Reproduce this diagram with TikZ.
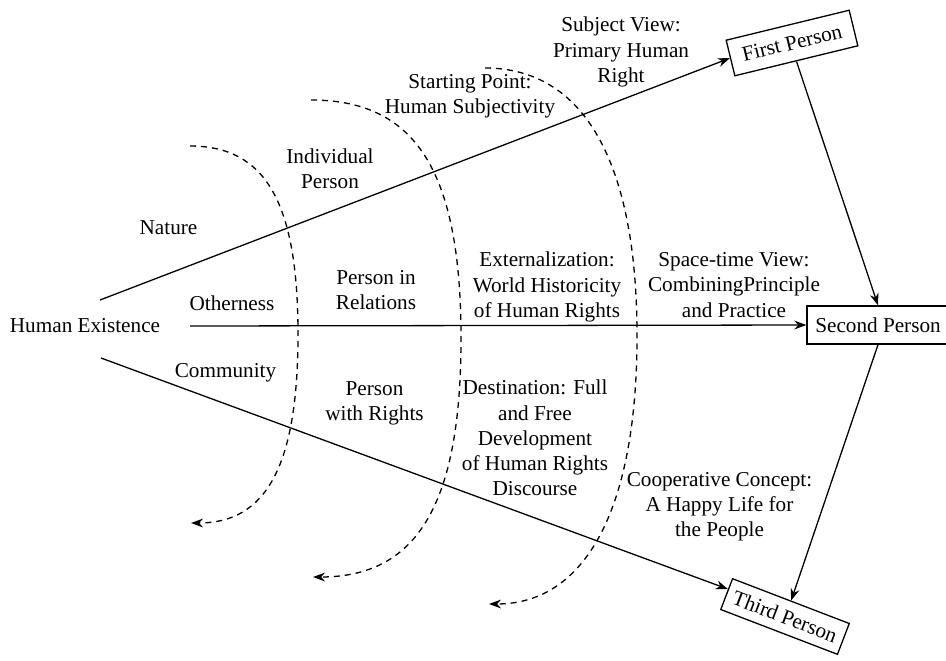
\documentclass[tikz,border=0pt]{standalone}
\usepackage{fontspec}
\setmainfont{Liberation Serif}
\usetikzlibrary{arrows.meta,calc}

\begin{document}
\begin{tikzpicture}[
    x=0.5pt, y=-0.5pt,
    font=\fontsize{10.6}{12.6}\selectfont,
    lbl/.style={align=center, inner sep=0pt},
    pbox/.style={draw, line width=0.65pt, inner sep=0pt, minimum width=#1, minimum height=18pt},
    arr/.style={-{Stealth[length=6pt,width=4.4pt]}, line width=0.65pt},
    darr/.style={arr, dash pattern=on 3pt off 2.5pt},
]
\useasboundingbox (0,0) rectangle (946,660);

\node[pbox=63.3pt, minimum height=18.3pt, rotate=13.7] (fp) at (792,43) {First Person};
\node[pbox=71pt, minimum height=19pt] (sp) at (878,325) {Second Person};
\node[pbox=62.5pt, minimum height=16.5pt, rotate=-21] (tp) at (785,616.5) {Third Person};

\node[lbl] (he) at (85,325.8) {Human Existence};
\node[lbl] (sv) at (621,52) {Subject View:\\Primary Human\\Right};
\node[lbl] (stp) at (470,96) {Starting Point:\\Human Subjectivity};
\node[lbl] (ip) at (330,169) {Individual\\Person};
\node[lbl] (nat) at (168.5,228) {Nature};
\node[lbl] (oth) at (232,303) {Otherness};
\node[lbl] (pir) at (376,290) {Person in\\Relations};
\node[lbl] (ext) at (547,287) {Externalization:\\World Historicity\\of Human Rights};
\node[lbl] (stv) at (734,285) {Space-time View:\\CombiningPrinciple\\and Practice};
\node[lbl] (com) at (225.5,373) {Community};
\node[lbl] (pwr) at (374.5,403) {Person\\with Rights};
\node[lbl] (dst) at (535,438) {Destination: Full\\and Free\\Development\\of Human Rights\\Discourse};
\node[lbl] (coop) at (719.5,507) {Cooperative Concept:\\A Happy Life for\\the People};

\coordinate (up) at (100,300);
\coordinate (mid) at (190,326);
\coordinate (low) at (101,358);

\draw[arr] (up) -- (fp.west);
\draw[arr] (mid) -- (sp.west);
\draw[arr] (low) -- ($(tp.west)!0.3!(tp.north west)$);
\draw[arr] (fp.south) -- (sp.north);
\draw[arr] (sp.south) -- (tp.north);

\draw[darr] (190,146) .. controls (265.6,146) and (298,202.5) .. (298,334.5)
    .. controls (298,466.5) and (265.9,523) .. (191,523);
\draw[darr] (311,100) .. controls (416,100) and (461,171.5) .. (461,338.5)
    .. controls (461,505.5) and (416.6,577) .. (313,577);
\draw[darr] (485,68) .. controls (583.8,68) and (637,161.8) .. (637,336)
    .. controls (637,510.2) and (585,604) .. (489,604);
\end{tikzpicture}
\end{document}
